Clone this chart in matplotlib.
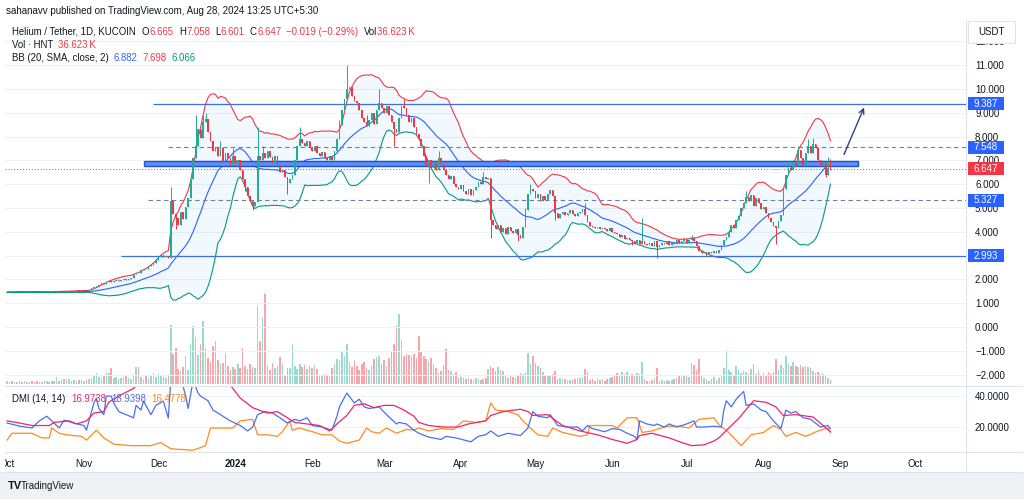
import matplotlib
matplotlib.use("Agg")
import matplotlib.pyplot as plt
from matplotlib.lines import Line2D
from matplotlib.patches import Rectangle
from matplotlib.colors import to_rgba
from matplotlib.transforms import blended_transform_factory
import numpy as np
import pandas as pd

plt.rcParams['font.family'] = ['Liberation Sans', 'DejaVu Sans']

W, H = 1024, 499

# ---------------- data ----------------
start_date = '2023-10-01'

closes = [
    1.46, 1.47, 1.45, 1.46, 1.48, 1.47, 1.45, 1.46, 1.47, 1.48,
    1.47, 1.46, 1.45, 1.47, 1.48, 1.46, 1.47, 1.48, 1.49, 1.47,
    1.48, 1.50, 1.49, 1.48, 1.50, 1.51, 1.49, 1.50, 1.52, 1.51,
    1.50, 1.52, 1.51, 1.55, 1.62, 1.66, 1.72, 1.78, 1.85, 1.82,
    1.90, 1.95, 1.88, 1.92, 1.98, 1.94, 1.96, 2.02, 1.97, 2.00,
    2.05, 2.22, 2.28, 2.25, 2.38, 2.45, 2.42, 2.55, 2.62, 2.70,
    2.82, 2.95, 3.02, 2.94, 2.98, 2.90, 5.30, 4.75, 4.60, 4.30,
    4.85, 4.55, 5.05, 5.40, 6.20, 7.10, 7.60, 8.30, 7.95, 8.60,
    8.75, 8.20, 7.80, 7.40, 7.55, 7.20, 7.50, 6.95, 7.30, 7.10,
    6.80, 7.20, 6.90, 7.00, 6.60, 6.20, 5.90, 5.50, 5.30, 5.10,
    5.25, 7.20, 7.00, 7.30, 7.10, 7.40, 7.15, 6.90, 7.20, 6.80,
    6.50, 6.60, 6.30, 6.05, 6.20, 6.40, 7.00, 7.60, 7.90, 7.75,
    7.60, 7.80, 7.50, 7.40, 7.60, 7.30, 7.20, 7.35, 7.10, 7.00,
    7.20, 7.00, 7.40, 7.90, 8.50, 9.10, 9.60, 10.00, 10.10, 9.70,
    9.50, 9.40, 9.10, 8.80, 8.60, 8.45, 8.70, 9.00, 8.55, 9.10,
    9.40, 9.20, 9.00, 9.30, 8.90, 8.60, 8.30, 8.20, 8.80, 9.30,
    9.20, 8.90, 8.60, 8.80, 8.40, 8.10, 7.90, 7.60, 7.20, 6.80,
    7.00, 6.70, 6.90, 6.60, 7.10, 6.85, 6.60, 6.40, 6.20, 6.35,
    6.00, 5.90, 5.80, 5.95, 5.70, 5.60, 5.80, 5.55, 5.75, 5.90,
    6.10, 6.00, 6.30, 6.20, 6.25, 4.50, 4.30, 4.10, 4.30, 4.00,
    4.15, 3.90, 4.20, 4.05, 3.95, 4.10, 3.85, 3.75, 4.20, 4.90,
    5.60, 5.80, 5.70, 5.40, 5.60, 5.30, 5.50, 5.35, 5.60, 5.75,
    5.50, 4.80, 4.60, 4.75, 4.85, 4.70, 4.80, 4.90, 4.75, 4.65,
    4.80, 4.85, 4.95, 4.70, 4.40, 4.25, 4.20, 4.15, 4.20, 4.10,
    4.18, 4.12, 4.05, 4.15, 4.00, 3.95, 3.90, 3.80, 3.85, 3.70,
    3.75, 3.65, 3.60, 3.55, 3.65, 3.50, 3.60, 3.50, 3.45, 3.55,
    3.40, 3.60, 3.35, 3.45, 3.55, 3.50, 3.60, 3.45, 3.55, 3.50,
    3.65, 3.55, 3.60, 3.70, 3.55, 3.65, 3.75, 3.60, 3.40, 3.20,
    3.10, 3.15, 3.05, 3.15, 3.10, 3.20, 3.12, 3.25, 3.45, 3.65,
    3.80, 4.00, 4.30, 4.15, 4.50, 4.65, 5.00, 5.20, 5.45, 5.30,
    5.55, 5.10, 5.40, 5.20, 4.95, 5.05, 4.80, 4.60, 4.40, 4.25,
    4.15, 4.45, 4.70, 5.80, 6.40, 6.70, 6.60, 6.90, 6.75, 7.45,
    7.10, 6.80, 7.30, 7.60, 7.30, 7.70, 7.50, 7.00, 6.80, 6.90,
    6.40, 6.665, 6.647,
]

high_wicks = {66: 5.9, 76: 8.9, 79: 8.9, 80: 9.0, 86: 7.8, 91: 7.5, 101: 8.4,
              103: 7.6, 118: 8.4, 134: 8.7, 137: 11.0, 145: 8.9, 150: 10.0,
              160: 9.6, 174: 7.4, 192: 6.5, 209: 5.0, 211: 6.0, 233: 5.2,
              256: 4.6, 276: 3.85, 298: 5.7, 315: 7.0, 319: 7.6, 323: 7.9,
              325: 7.95, 331: 7.15, 332: 7.058}
low_wicks = {66: 2.88, 68: 4.1, 96: 5.7, 99: 4.9, 113: 5.6, 156: 7.6, 170: 6.05,
             195: 3.75, 206: 3.6, 221: 4.5, 252: 3.45, 262: 2.9, 282: 3.0,
             310: 3.5, 330: 6.3, 332: 6.601}

volume_k = [
    30, 20, 30, 20, 20, 30, 20, 30, 20, 20,
    30, 20, 30, 20, 20, 30, 30, 20, 30, 30,
    70, 30, 40, 50, 50, 50, 30, 40, 30, 40,
    40, 30, 40, 50, 60, 80, 110, 70, 60, 80,
    110, 110, 160, 60, 70, 50, 60, 70, 90, 60,
    50, 80, 170, 170, 70, 50, 80, 60, 90, 110,
    70, 100, 80, 70, 60, 80, 590, 300, 360, 150,
    130, 170, 280, 140, 400, 580, 470, 290, 400, 630,
    360, 260, 220, 380, 430, 240, 200, 210, 310, 180,
    140, 170, 150, 200, 160, 360, 180, 150, 200, 170,
    160, 780, 430, 670, 900, 180, 140, 210, 160, 180,
    270, 210, 90, 160, 160, 400, 180, 150, 200, 170,
    190, 150, 180, 160, 190, 150, 90, 80, 100, 90,
    80, 160, 200, 250, 240, 330, 280, 400, 220, 170,
    240, 180, 140, 200, 220, 160, 140, 180, 250, 270,
    280, 200, 240, 180, 260, 320, 400, 590, 700, 440,
    280, 300, 290, 280, 300, 260, 480, 330, 280, 250,
    230, 260, 200, 160, 110, 130, 190, 350, 140, 130,
    100, 120, 60, 70, 60, 50, 60, 50, 40, 60,
    50, 40, 50, 60, 150, 180, 160, 130, 170, 140,
    130, 80, 60, 90, 70, 60, 80, 110, 100, 120,
    310, 200, 280, 210, 180, 160, 120, 80, 90, 80,
    100, 130, 50, 60, 50, 50, 40, 40, 40, 50,
    60, 60, 70, 150, 120, 40, 50, 30, 60, 40,
    50, 30, 50, 60, 70, 80, 110, 90, 120, 100,
    120, 80, 100, 90, 110, 100, 220, 50, 30, 30,
    40, 60, 160, 30, 40, 30, 40, 30, 40, 50,
    60, 80, 70, 90, 80, 70, 210, 190, 140, 250,
    90, 60, 40, 30, 50, 70, 40, 60, 80, 160,
    340, 140, 120, 90, 180, 140, 110, 130, 120, 100,
    150, 200, 100, 130, 90, 110, 80, 120, 100, 120,
    250, 140, 190, 160, 280, 200, 180, 220, 180, 170,
    190, 170, 180, 170, 160, 130, 110, 120, 90, 100,
    80, 60, 36.6,
]

adx_points = [(0, 24), (5, 22.6), (10, 21), (17, 21), (19, 23), (25, 24), (28, 22),
              (32, 24), (35, 29), (39, 30), (41, 36), (45, 40), (51, 45), (53, 48),
              (60, 55), (75, 58), (90, 47), (94, 38.7), (99, 32.5), (105, 29),
              (109, 30), (113, 26), (116, 23), (121, 22), (126, 21), (130, 17.5),
              (133, 22), (137, 27.5), (140, 34), (144, 35), (148, 32.5), (152, 34),
              (156, 34), (160, 31), (164, 27), (166, 23), (170, 21), (176, 20),
              (182, 20), (186, 22), (193, 24), (195, 27.5), (200, 30), (207, 31.5),
              (210, 30), (212, 27.5), (218, 28), (220, 25.5), (224, 21), (231, 17.5),
              (238, 15), (244, 12), (250, 9.5), (254, 12), (255, 14.5), (260, 16),
              (267, 13), (272, 10), (276, 8), (281, 8.5), (285, 11), (287, 13),
              (291, 19.4), (295, 25.6), (301, 37), (306, 36), (310, 33), (313, 27.5),
              (318, 28), (325, 26.5), (329, 21), (332, 16.9738)]
plus_di_points = [(0, 22.6), (5, 20.6), (10, 19.4), (13, 24), (16, 27), (18, 24), (21, 19.4),
                  (23, 24.5), (27, 22.5), (31, 21), (32, 18), (33, 24), (35, 35.5),
                  (36, 38.7), (37, 32), (39, 28), (40, 40), (42, 40), (43, 35.5), (45, 30),
                  (48, 28), (51, 26), (52, 34), (54, 31), (55, 36.8), (58, 28), (60, 34),
                  (63, 36.8), (65, 25.8), (66, 50), (68, 55), (70, 52), (72, 40), (73, 32),
                  (75, 50), (77, 42), (78, 40), (81, 37), (83, 31), (86, 28), (90, 24),
                  (94, 21), (97, 17.5), (99, 20), (101, 28), (104, 30), (107, 29),
                  (110, 26), (113, 22.6), (116, 25), (118, 24), (121, 26), (123, 21),
                  (127, 20), (129, 19), (131, 18), (133, 27), (134, 33), (137, 42),
                  (140, 35.5), (142, 38), (144, 33), (146, 32), (150, 33), (153, 28),
                  (157, 22), (158, 23), (161, 22), (164, 18), (166, 16), (170, 13.5),
                  (175, 12), (177, 14), (181, 13), (187, 10.5), (190, 14), (193, 15),
                  (195, 17.5), (198, 14), (202, 16), (207, 14.5), (210, 19.4), (212, 30),
                  (214, 27), (218, 26), (219, 28), (222, 21), (226, 20), (230, 20),
                  (232, 17.5), (234, 21), (236, 19), (241, 17), (244, 19), (247, 18.5),
                  (250, 16), (253, 14), (254, 12), (255, 24), (258, 22), (261, 21),
                  (262, 22), (265, 20), (267, 22), (270, 20), (274, 22), (277, 24),
                  (278, 20), (281, 20), (285, 20.5), (288, 20), (289, 31), (290, 37),
                  (292, 33), (294, 38), (297, 43), (298, 34), (301, 35), (304, 31),
                  (306, 30), (309, 24), (312, 19), (314, 31), (316, 29), (318, 30),
                  (321, 26), (324, 25), (328, 20), (331, 21), (332, 18.9398)]
minus_di_points = [(0, 11.6), (2, 16), (10, 16), (14, 13), (17, 13), (18, 19.4), (21, 16),
                   (24, 15), (30, 14), (32, 11.6), (36, 18), (39, 13), (43, 9), (50, 8),
                   (58, 8), (62, 10), (66, 6), (75, 5), (80, 8), (82, 19.4), (85, 19.4),
                   (91, 19.4), (94, 24), (99, 25), (101, 15), (105, 15), (109, 14),
                   (111, 17), (114, 24), (115, 18), (118, 19.4), (123, 17), (127, 15),
                   (131, 15), (134, 11), (137, 9.5), (142, 11.6), (145, 19.4), (147, 17),
                   (150, 16), (153, 19.4), (157, 16), (161, 18.5), (164, 18), (166, 19.4),
                   (170, 17.5), (175, 19), (180, 18.5), (184, 24), (189, 23), (193, 24),
                   (195, 35.5), (197, 31), (202, 30), (206, 28), (208, 24), (211, 19.4),
                   (214, 15), (218, 14), (220, 19.4), (224, 16.5), (231, 14), (234, 15),
                   (235, 21), (239, 21), (244, 21), (246, 19.4), (250, 26), (254, 26),
                   (256, 16.5), (260, 17.5), (266, 20.5), (271, 20.5), (275, 19.4),
                   (279, 25), (285, 26), (287, 21.5), (291, 16.5), (296, 8), (300, 15),
                   (305, 16.5), (309, 21), (312, 18.5), (314, 14), (318, 16.5), (322, 14),
                   (327, 17.5), (331, 19.4), (332, 16.4778)]

month_labels = ['Oct', 'Nov', 'Dec', '2024', 'Feb', 'Mar', 'Apr', 'May', 'Jun',
                'Jul', 'Aug', 'Sep', 'Oct']
month_dates = ['2023-10-01', '2023-11-01', '2023-12-01', '2024-01-01', '2024-02-01',
               '2024-03-01', '2024-04-01', '2024-05-01', '2024-06-01', '2024-07-01',
               '2024-08-01', '2024-09-01', '2024-10-01']
price_ticks = list(range(-2, 13))
dmi_ticks = [20, 40]

# drawn levels / tags
solid_levels = [9.387, 2.993]
solid_level_start = [59, 46]
dashed_levels = [7.548, 5.327]
dashed_level_start = [65, 57]
zone_low, zone_high = 6.76, 6.98
zone_start, zone_end = 55, 343
last_price = 6.647
arrow_start = (337, 7.14)
arrow_end = (346, 9.33)
tags = [('9.387', 9.387, '#2962ff'), ('7.548', 7.548, '#2962ff'),
        ('6.647', 6.647, '#f23645'), ('5.327', 5.327, '#2962ff'),
        ('2.993', 2.993, '#2962ff')]

# ---------------- figure ----------------
fig = plt.figure(figsize=(W / 100, H / 100), dpi=100)
fig.patch.set_facecolor('white')
renderer = fig.canvas.get_renderer()


def rect(l, t, r, b):
    return [l / W, 1 - b / H, (r - l) / W, (b - t) / H]


X0, X1 = -0.85, 386.65
UP, DN = '#22ab94', '#f23645'
TXT = '#131722'

n = len(closes)
idx = np.arange(n)
c = np.array(closes, dtype=float)
o = np.r_[c[0], c[:-1]]
hi = np.maximum(o, c)
lo = np.minimum(o, c)
for k, v in high_wicks.items():
    hi[k] = max(hi[k], v)
for k, v in low_wicks.items():
    lo[k] = min(lo[k], v)
up = c >= o
cols = np.where(up, UP, DN)

# bottom strip
fig.add_artist(Rectangle((0, 0), 1, 27 / H, transform=fig.transFigure,
                         fc='#eff1f4', ec='none', zorder=0))

# volume axes (behind)
axv = fig.add_axes(rect(5, 20, 966, 386))
axv.set_zorder(1)
axv.bar(idx, volume_k, width=0.62,
        color=[to_rgba(cc, 0.45) for cc in cols], linewidth=0)
axv.set_ylim(-20, 3640)
axv.set_xlim(X0, X1)
axv.axis('off')

# price axes
ax = fig.add_axes(rect(5, 20, 966, 386))
ax.set_zorder(2)
ax.patch.set_alpha(0)
ax.set_xlim(X0, X1)
ax.set_ylim(-2.479, 12.899)
ax.set_yticks(price_ticks)
ax.set_yticklabels([f'{v:.3f}'.replace('-', '\u2212') for v in price_ticks])
ax.yaxis.tick_right()
ax.tick_params(axis='y', length=0, pad=6.5, labelsize=7, labelcolor=TXT)
ax.tick_params(axis='x', bottom=False, labelbottom=False)
ax.grid(axis='y', color='#eef1f6', lw=0.8)
ax.set_axisbelow(True)
for sp in ax.spines.values():
    sp.set_visible(False)

# Bollinger bands
s = pd.Series(c)
basis = s.rolling(20, min_periods=1).mean()
sd = s.rolling(20, min_periods=1).std(ddof=0)
upper = basis + 2 * sd
lower = basis - 2 * sd
ax.fill_between(idx, lower, upper, color='#2196f3', alpha=0.06, lw=0, zorder=1)
ax.plot(idx, upper, color='#f23645', lw=0.8, zorder=2)
ax.plot(idx, basis, color='#2962ff', lw=0.8, zorder=2)
ax.plot(idx, lower, color='#089981', lw=0.8, zorder=2)

# levels
for v, st in zip(solid_levels, solid_level_start):
    ax.hlines(v, st, X1, color='#3d6fe8', lw=0.9, zorder=2.5)
for v, st in zip(dashed_levels, dashed_level_start):
    ax.hlines(v, st, X1, color='#6d7fa3', lw=0.8, linestyles=(0, (4, 3)), zorder=2.5)
ax.axhline(last_price, color='#f23645', lw=0.7, ls=(0, (1, 2)), zorder=2.5)
ax.add_patch(Rectangle((zone_start, zone_low), zone_end - zone_start, zone_high - zone_low,
                       fc='#5f8ff5', ec='#1c50e0', lw=1.0, zorder=2.6))

# candles
ax.vlines(idx, lo, hi, colors=cols, lw=0.7, zorder=3)
ax.bar(idx, np.maximum(np.abs(c - o), 0.03), bottom=np.minimum(o, c), width=0.62,
       color=cols, linewidth=0, zorder=4)

ax.annotate('', xy=arrow_end, xytext=arrow_start,
            arrowprops=dict(arrowstyle='->', color='#2f3f94', lw=1.0, mutation_scale=9))

# price tags on the scale
trans = blended_transform_factory(fig.transFigure, ax.transData)
half = 6.5 / 23.85
for txt, v, col in tags:
    ax.add_patch(Rectangle((968 / W, v - half), 36 / W, 2 * half, transform=trans,
                           fc=col, ec='none', clip_on=False, zorder=10))
    ax.text(986 / W, v, txt, transform=trans, color='white', fontsize=7,
            ha='center', va='center', clip_on=False, zorder=11)

# DMI axes
axd = fig.add_axes(rect(5, 386, 966, 452))
axd.set_xlim(X0, X1)
axd.set_ylim(3.9, 46.5)
axd.set_yticks(dmi_ticks)
axd.set_yticklabels([f'{v:.4f}' for v in dmi_ticks])
axd.yaxis.tick_right()
axd.tick_params(axis='y', length=0, pad=6.5, labelsize=7, labelcolor=TXT)
axd.tick_params(axis='x', bottom=False, labelbottom=False)
axd.grid(axis='y', color='#eef1f6', lw=0.8)
axd.set_axisbelow(True)
axd.patch.set_alpha(0)
for sp in axd.spines.values():
    sp.set_visible(False)
for pts, col in [(minus_di_points, '#ff8a1e'), (plus_di_points, '#4a6ff0'),
                 (adx_points, '#f0246a')]:
    xs, ys = zip(*pts)
    axd.plot(xs, ys, color=col, lw=0.9)

# time axis
axt = fig.add_axes(rect(5, 452, 966, 472))
axt.set_xlim(X0, X1)
axt.set_ylim(0, 1)
axt.axis('off')
t0 = pd.Timestamp(start_date)
for lab, d in zip(month_labels, month_dates):
    pos = (pd.Timestamp(d) - t0).days
    axt.text(pos, 0.4, lab, ha='center', va='center', fontsize=7, color=TXT,
             fontweight='bold' if lab == '2024' else 'normal', clip_on=True)

# separators
sep = '#e0e3eb'
fig.add_artist(Line2D([966 / W, 966 / W], [1 - 20 / H, 1 - 472 / H], color=sep, lw=0.8))
for yy in (386, 452):
    fig.add_artist(Line2D([5 / W, 1022 / W], [1 - yy / H, 1 - yy / H], color=sep, lw=0.8))
fig.add_artist(Line2D([2 / W, 1022 / W], [1 - 472 / H, 1 - 472 / H], color=sep, lw=0.8))

# USDT box
fig.add_artist(Rectangle((968 / W, 1 - 43 / H), 47 / W, 22 / H, transform=fig.transFigure,
                         fc='white', ec=sep, lw=0.8, zorder=5))
fig.text(991 / W, 1 - 32 / H, 'USDT', fontsize=7, color=TXT, ha='center', va='center',
         zorder=6)


def segments(x, y, parts, size=6.9):
    for txt, col, gap in parts:
        t = fig.text(x / W, 1 - y / H, txt, color=col, fontsize=size,
                     ha='left', va='center')
        x += t.get_window_extent(renderer).width + gap


fig.text(6 / W, 1 - 11 / H, 'sahanavv published on TradingView.com, Aug 28, 2024 13:25 UTC+5:30',
         fontsize=7, color=TXT, ha='left', va='center')
RED = '#f23645'
segments(12, 32, [('Helium / Tether, 1D, KUCOIN', TXT, 6), ('O', TXT, 0.5), ('6.665', RED, 5),
                  ('H', TXT, 0.5), ('7.058', RED, 5), ('L', TXT, 0.5), ('6.601', RED, 5),
                  ('C', TXT, 0.5), ('6.647', RED, 5), ('\u22120.019 (\u22120.29%)', RED, 5),
                  ('Vol', TXT, 0.5), ('36.623\u2009K', RED, 0)])
segments(12, 45, [('Vol \u00b7 HNT', TXT, 5), ('36.623\u2009K', RED, 0)])
segments(12, 58, [('BB (20, SMA, close, 2)', TXT, 5), ('6.882', '#2962ff', 5),
                  ('7.698', RED, 5), ('6.066', '#089981', 0)])
segments(12, 399, [('DMI (14, 14)', TXT, 6), ('16.9738', '#f0246a', 5),
                   ('18.9398', '#4a6ff0', 5), ('16.4778', '#ff8a1e', 0)])

# logo
fig.text(8 / W, 1 - 486 / H, 'TV', fontsize=8, fontweight='heavy', color=TXT,
         ha='left', va='center')
fig.text(21 / W, 1 - 486 / H, 'TradingView', fontsize=7, color=TXT, ha='left', va='center')

fig.savefig('out.png', dpi=100)
